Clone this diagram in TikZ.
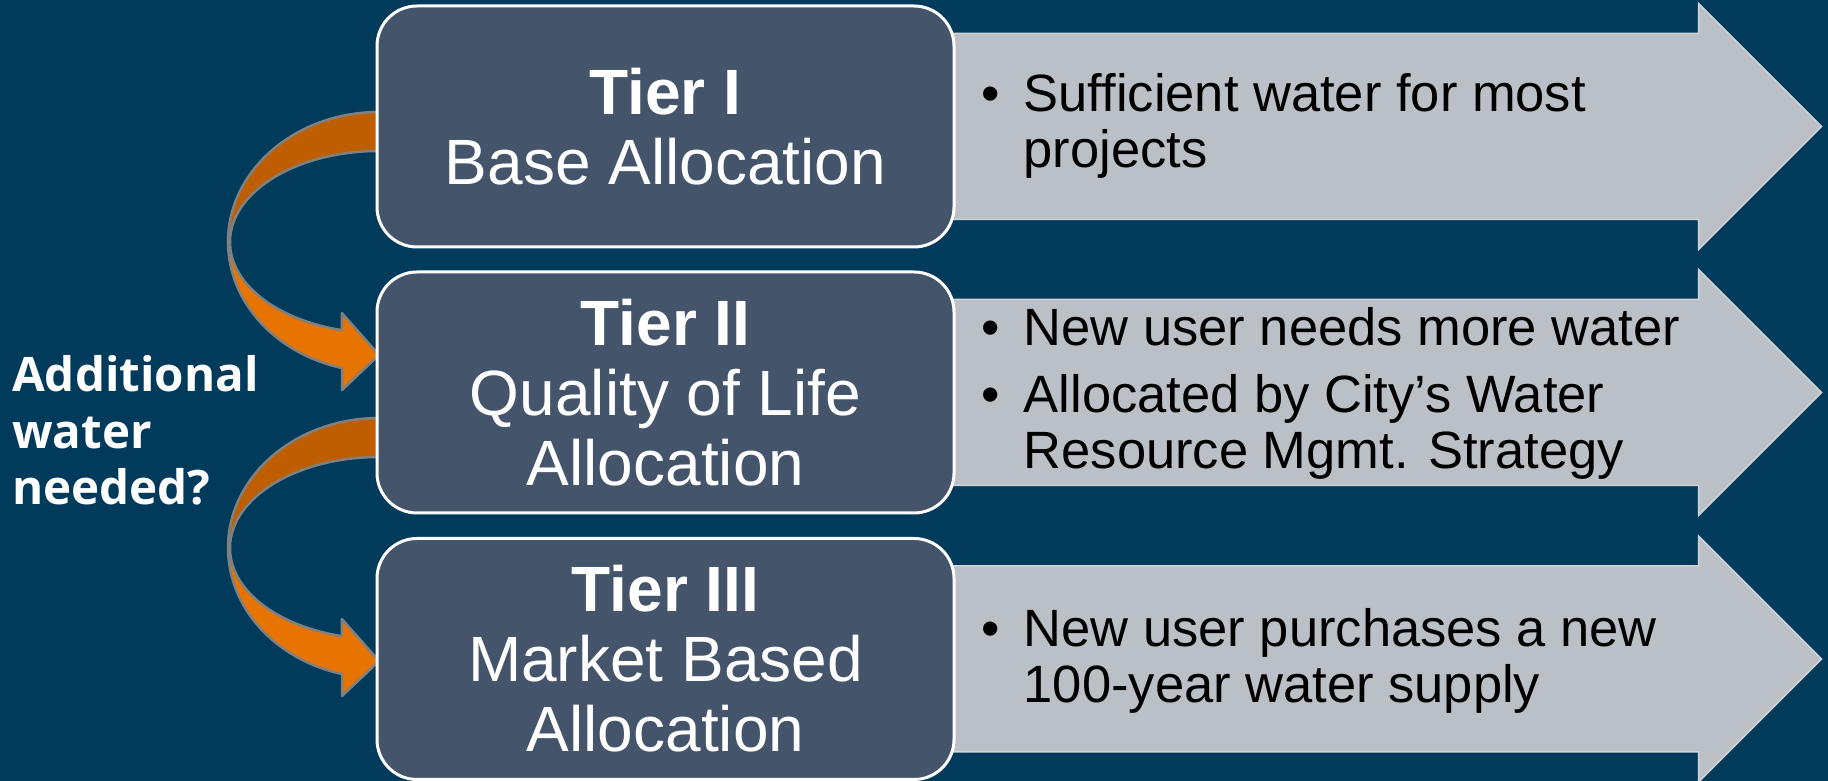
\documentclass[tikz,border=0pt]{standalone}
\usepackage{fontspec}
\setmainfont{Liberation Sans}
\newfontfamily\opensans{Open Sans}
\usetikzlibrary{calc}
\definecolor{navy}{RGB}{0,59,92}
\definecolor{slate}{RGB}{68,84,106}
\definecolor{paleGray}{RGB}{187,192,198}
\definecolor{paleEdge}{RGB}{208,212,217}
\definecolor{darkOrange}{RGB}{190,94,0}
\definecolor{lightOrange}{RGB}{232,116,0}
\definecolor{ribbonEdge}{RGB}{128,128,128}
\pgfdeclarelayer{back}
\pgfdeclarelayer{mid}
\pgfsetlayers{back,mid,main}

% bullet mark followed by a hanging indent
\newcommand\blt{\makebox[42.5pt][l]{•}}
\newcommand\hang{\hangindent=42.5pt\hangafter=1 }

% grey block arrow behind a tier box
\newcommand\tierarrow[1]{%
  \draw[grayarrow] ([xshift=-60pt,yshift=-29pt]#1.north east)
    -- ([xshift=743pt,yshift=-29pt]#1.north east)
    -- ([xshift=743pt,yshift=1pt]#1.north east)
    -- ([xshift=866pt]#1.east)
    -- ([xshift=743pt,yshift=-1pt]#1.south east)
    -- ([xshift=743pt,yshift=29pt]#1.south east)
    -- ([xshift=-60pt,yshift=29pt]#1.south east) -- cycle;}

% curved ribbon arrow around ellipse centre #1
\newcommand\ribbon[1]{%
  \filldraw[ribbonback] ($(#1)+(0,130)$)
    arc[start angle=90,end angle=180,x radius=151,y radius=130]
    -- ($(#1)+(-149,0)$)
    arc[start angle=180,end angle=90,x radius=149,y radius=91] -- cycle;
  \filldraw[ribbonfront] ($(#1)+(-149,0)$)
    arc[start angle=180,end angle=255.6,x radius=149,y radius=91]
    -- ++(0,17)
    -- ($(#1)+(0,-113)$)
    -- ($(#1)+(-37,-148)$)
    -- ($(#1)+(-37,-126)$)
    arc[start angle=255.8,end angle=180,x radius=151,y radius=130] -- cycle;}

\begin{document}
\begin{tikzpicture}[x=1pt,y=1pt,
  tierbox/.style={draw=white, line width=3pt, fill=slate, rounded corners=40pt,
    minimum width=577pt, minimum height=241pt, inner sep=0pt, align=center,
    text=white, font=\fontsize{64}{70}\selectfont},
  grayarrow/.style={fill=paleGray, draw=paleEdge, line width=1.5pt},
  ribbonback/.style={fill=darkOrange, draw=ribbonEdge, line width=2.5pt, line join=round},
  ribbonfront/.style={fill=lightOrange, draw=ribbonEdge, line width=2.5pt, line join=round},
  bullettext/.style={anchor=base west, inner sep=0pt, text=black,
    font=\fontsize{52.5}{56}\selectfont},
  question/.style={anchor=base west, inner sep=0pt, text=white}
]
\useasboundingbox (0,0) rectangle (1828,781);
\begin{pgfonlayer}{back}
  \fill[navy] (0,0) rectangle (1828,781);
\end{pgfonlayer}

% tier boxes
\node[tierbox] (t1) at (665.5,654.5) {\textbf{Tier I}\\Base Allocation};
\node[tierbox] (t2) at (665.5,388.5) {\textbf{Tier II}\\Quality of Life\\Allocation};
\node[tierbox] (t3) at (665.5,122) {\textbf{Tier III}\\Market Based\\Allocation};

% grey arrows and curved connectors sit behind the boxes
\begin{pgfonlayer}{mid}
  \tierarrow{t1}
  \tierarrow{t2}
  \tierarrow{t3}
  \coordinate (c1) at (379,539);
  \coordinate (c2) at (379,233);
  \ribbon{c1}
  \ribbon{c2}
\end{pgfonlayer}

% bullet texts
\node[bullettext] (b1) at (981,669) {\parbox[t]{800pt}{\raggedright
  \hang\blt Sufficient water for most\newline projects}};
\node[bullettext] (b2) at (981,435) {\parbox[t]{800pt}{\raggedright
  \hang\blt New user needs more water\par\vspace{11pt}
  \hang\blt Allocated by City’s Water\newline Resource Mgmt. Strategy}};
\node[bullettext] (b3) at (981,134) {\parbox[t]{800pt}{\raggedright
  \hang\blt New user purchases a new\newline 100-year water supply}};

% side question
\node[question] (q) at (12,389) {\parbox[t]{320pt}{\opensans\bfseries
  \fontsize{47.5}{56.5}\selectfont Additional\\water\\needed?}};
\end{tikzpicture}
\end{document}
